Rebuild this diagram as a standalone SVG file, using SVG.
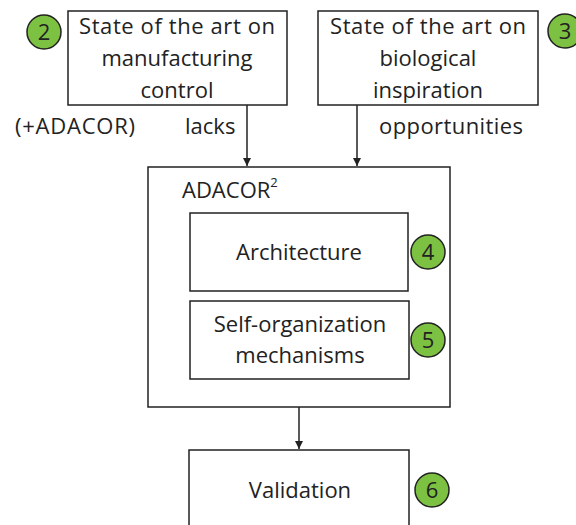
<svg xmlns="http://www.w3.org/2000/svg" width="576" height="525" viewBox="0 0 576 525">
<style>
.box{fill:#fff;stroke:#222;stroke-width:1.5}
.t{font-family:"Open Sans","Liberation Sans",sans-serif;font-size:22px;fill:#222;text-anchor:middle}
.l{font-family:"Open Sans","Liberation Sans",sans-serif;font-size:22px;fill:#222}
.c{fill:#7dc142;stroke:#222;stroke-width:1.5}
.n{font-family:"Open Sans","Liberation Sans",sans-serif;font-size:22px;fill:#222;text-anchor:middle}
.e{stroke:#222;stroke-width:1.5;fill:none;marker-end:url(#ah)}
</style>
<defs>
<marker id="ah" viewBox="0 0 10 10" refX="10" refY="5" markerWidth="8" markerHeight="8" markerUnits="userSpaceOnUse" orient="auto"><path d="M0,0 L10,5 L0,10 Z" fill="#222"/></marker>
</defs>
<rect width="576" height="525" fill="#fff"/>
<g id="connectors">
<path class="e" d="M247,105 V166"/>
<path class="e" d="M357,105 V166"/>
<path class="e" d="M299,407 V449"/>
<text class="l" x="15" y="134" textLength="120">(+ADACOR)</text>
<text class="l" x="185" y="134">lacks</text>
<text class="l" x="379" y="134" textLength="144">opportunities</text>
</g>
<g id="sota-manufacturing">
<rect class="box" x="68" y="11" width="219" height="94"/>
<text class="t" x="177" y="34" textLength="196">State of the art on</text>
<text class="t" x="177" y="66">manufacturing</text>
<text class="t" x="177" y="98">control</text>
<circle class="c" cx="44" cy="32" r="17"/>
<text class="n" x="44" y="40">2</text>
</g>
<g id="sota-biological">
<rect class="box" x="318" y="11" width="220" height="94"/>
<text class="t" x="428" y="34" textLength="196">State of the art on</text>
<text class="t" x="428" y="66">biological</text>
<text class="t" x="428" y="98">inspiration</text>
<circle class="c" cx="565" cy="31" r="17"/>
<text class="n" x="565" y="39">3</text>
</g>
<g id="adacor2">
<rect class="box" x="148" y="167" width="302" height="240"/>
<text class="l" x="182" y="198">ADACOR<tspan font-size="13" dy="-11">2</tspan></text>
</g>
<g id="architecture">
<rect class="box" x="190" y="213" width="218" height="78"/>
<text class="t" x="299" y="260">Architecture</text>
<circle class="c" cx="428" cy="252" r="17"/>
<text class="n" x="428" y="260">4</text>
</g>
<g id="self-organization">
<rect class="box" x="190" y="301" width="219" height="78"/>
<text class="t" x="300" y="332">Self-organization</text>
<text class="t" x="300" y="363">mechanisms</text>
<circle class="c" cx="428" cy="340" r="17"/>
<text class="n" x="428" y="348">5</text>
</g>
<g id="validation">
<rect class="box" x="189" y="450" width="220" height="90"/>
<text class="t" x="300" y="498">Validation</text>
<circle class="c" cx="432" cy="490" r="17"/>
<text class="n" x="432" y="498">6</text>
</g>
</svg>
